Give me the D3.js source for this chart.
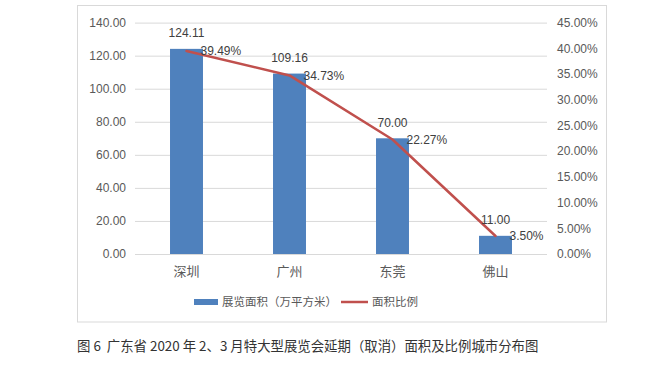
<!DOCTYPE html>
<html><head><meta charset="utf-8">
<script src="https://cdn.jsdelivr.net/npm/d3@7"></script>
<style>
html,body{margin:0;padding:0;background:#fff;}
svg{display:block;}
</style></head>
<body>
<svg id="chart" width="671" height="365"></svg>
<script>
const categories = ["深圳", "广州", "东莞", "佛山"];
const areaValues = [124.11, 109.16, 70.00, 11.00];
const ratioValues = [0.3949, 0.3473, 0.2227, 0.0350];
const leftTicks = [0, 20, 40, 60, 80, 100, 120, 140];
const rightTicks = [0, 0.05, 0.10, 0.15, 0.20, 0.25, 0.30, 0.35, 0.40, 0.45];
const legendLabels = ["展览面积（万平方米）", "面积比例"];
const caption = "图 6  广东省 2020 年 2、3 月特大型展览会延期（取消）面积及比例城市分布图";

const svg = d3.select("#chart");
const latin = "'Liberation Sans', Arial, sans-serif";
const cjk = "'Noto Sans CJK SC', 'Liberation Sans', sans-serif";
const gray = "#595959";
const barColor = "#4f81bd", lineColor = "#c0504d";

// chart frame
svg.append("rect").attr("x", 77.5).attr("y", 5.5).attr("width", 529).attr("height", 316.5)
  .attr("fill", "#fff").attr("stroke", "#d9d9d9").attr("stroke-width", 1);

const L = 135, R = 547, T = 22.6, B = 254;
const x = d3.scaleBand().domain(categories).range([L, R]).paddingInner(0.68).paddingOuter(0.34);
const yL = d3.scaleLinear().domain([0, 140]).range([B, T]);
const yR = d3.scaleLinear().domain([0, 0.45]).range([B, T]);

// gridlines
svg.append("g").attr("transform", `translate(${L},0)`)
  .call(d3.axisLeft(yL).tickValues(leftTicks).tickSize(-(R - L)).tickFormat(""))
  .call(g => g.select(".domain").remove())
  .call(g => g.selectAll("line").attr("stroke", "#d9d9d9"));

// left axis
svg.append("g").attr("transform", `translate(${L},0)`)
  .call(d3.axisLeft(yL).tickValues(leftTicks).tickSize(0).tickPadding(9).tickFormat(d3.format(".2f")))
  .call(g => g.select(".domain").remove())
  .call(g => g.selectAll("text").attr("fill", gray).style("font-family", latin).style("font-size", "12px"));

// right axis
svg.append("g").attr("transform", `translate(${R},0)`)
  .call(d3.axisRight(yR).tickValues(rightTicks).tickSize(0).tickPadding(10).tickFormat(d3.format(".2%")))
  .call(g => g.select(".domain").remove())
  .call(g => g.selectAll("text").attr("fill", gray).style("font-family", latin).style("font-size", "12px"));

// bottom axis
svg.append("g").attr("transform", `translate(0,${B})`)
  .call(d3.axisBottom(x).tickSize(0).tickPadding(13))
  .call(g => g.select(".domain").remove())
  .call(g => g.selectAll("text").attr("fill", gray).style("font-family", cjk).style("font-size", "13px"));

// bars
svg.append("g").selectAll("rect").data(areaValues).join("rect")
  .attr("x", (d, i) => x(categories[i]))
  .attr("y", d => yL(d))
  .attr("width", x.bandwidth())
  .attr("height", d => B - yL(d))
  .attr("fill", barColor);

// line
const line = d3.line()
  .x((d, i) => x(categories[i]) + x.bandwidth() / 2)
  .y(d => yR(d));
svg.append("path").datum(ratioValues).attr("d", line)
  .attr("fill", "none").attr("stroke", lineColor).attr("stroke-width", 2.5)
  .attr("stroke-linejoin", "round").attr("stroke-linecap", "round");

// bar labels
svg.append("g").selectAll("text").data(areaValues).join("text")
  .attr("x", (d, i) => x(categories[i]) + x.bandwidth() / 2)
  .attr("y", d => yL(d) - 11.5)
  .attr("text-anchor", "middle")
  .attr("fill", "#404040").style("font-family", latin).style("font-size", "12px")
  .text(d => d3.format(".2f")(d));

// ratio labels
svg.append("g").selectAll("text").data(ratioValues).join("text")
  .attr("x", (d, i) => x(categories[i]) + x.bandwidth() / 2 + 14)
  .attr("y", d => yR(d) + 4.3)
  .attr("fill", "#404040").style("font-family", latin).style("font-size", "12px")
  .text(d => d3.format(".2%")(d));

// legend
const lg = svg.append("g");
lg.append("rect").attr("x", 194).attr("y", 299).attr("width", 24).attr("height", 6).attr("fill", barColor);
lg.append("text").attr("x", 222).attr("y", 306).attr("fill", gray)
  .style("font-family", cjk).style("font-size", "11.5px").text(legendLabels[0]);
lg.append("line").attr("x1", 341).attr("x2", 368).attr("y1", 302).attr("y2", 302)
  .attr("stroke", lineColor).attr("stroke-width", 2.5);
lg.append("text").attr("x", 372).attr("y", 306).attr("fill", gray)
  .style("font-family", cjk).style("font-size", "11.5px").text(legendLabels[1]);

// caption
svg.append("text").attr("x", 77).attr("y", 351).attr("fill", "#333")
  .style("font-family", cjk).style("font-size", "13.4px").attr("xml:space", "preserve")
  .style("white-space", "pre").text(caption);
</script>
</body></html>
